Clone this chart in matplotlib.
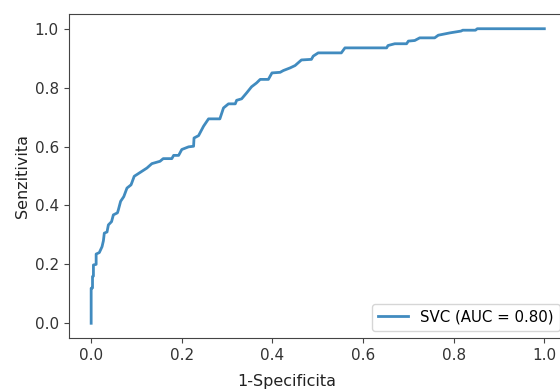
import matplotlib
matplotlib.use("Agg")
import matplotlib.pyplot as plt

fpr = [0, 0, 0.003, 0.003, 0.005, 0.005, 0.011, 0.011, 0.018, 0.024, 0.027, 0.029,
       0.035, 0.038, 0.045, 0.049, 0.058, 0.060, 0.065, 0.072, 0.079, 0.088, 0.090,
       0.095, 0.108, 0.123, 0.134, 0.152, 0.159, 0.178, 0.182, 0.193, 0.200, 0.215,
       0.226, 0.227, 0.237, 0.248, 0.259, 0.284, 0.292, 0.303, 0.318, 0.321, 0.332,
       0.343, 0.354, 0.365, 0.373, 0.391, 0.399, 0.417, 0.424, 0.439, 0.450, 0.464,
       0.486, 0.490, 0.501, 0.552, 0.560, 0.652, 0.655, 0.670, 0.696, 0.700, 0.714,
       0.725, 0.758, 0.766, 0.792, 0.816, 0.820, 0.848, 0.852, 1.0]
tpr = [0, 0.119, 0.12, 0.159, 0.16, 0.198, 0.20, 0.235, 0.24, 0.26, 0.28, 0.306,
       0.31, 0.334, 0.345, 0.368, 0.375, 0.385, 0.414, 0.43, 0.459, 0.47, 0.478,
       0.499, 0.512, 0.527, 0.542, 0.55, 0.559, 0.559, 0.57, 0.57, 0.59, 0.599,
       0.601, 0.629, 0.637, 0.669, 0.694, 0.694, 0.731, 0.745, 0.745, 0.757, 0.762,
       0.782, 0.803, 0.816, 0.828, 0.828, 0.850, 0.852, 0.858, 0.867, 0.875, 0.894,
       0.896, 0.907, 0.918, 0.918, 0.935, 0.935, 0.943, 0.949, 0.949, 0.958, 0.960,
       0.969, 0.969, 0.978, 0.986, 0.992, 0.995, 0.995, 1.0, 1.0]
label = "SVC (AUC = 0.80)"

fig = plt.figure(figsize=(5.6, 3.92), dpi=100)
ax = fig.add_axes([68.5/560, 54/392, 498.5/560, 324/392])
ax.plot(fpr, tpr, color="#1f77b4", lw=2, alpha=0.85, label=label)
ax.set_xlabel("1-Specificita", fontsize=11.5, x=0.438, color="#222222", labelpad=8)
ax.set_ylabel("Senzitivita", fontsize=11.5, color="#222222", labelpad=3)
ax.tick_params(labelsize=11, labelcolor="#333333", color="#444444")
for s in ax.spines.values():
    s.set_color("#444444")
ax.legend(loc="lower right", fontsize=10.8)
fig.savefig("out.png", dpi=100)
